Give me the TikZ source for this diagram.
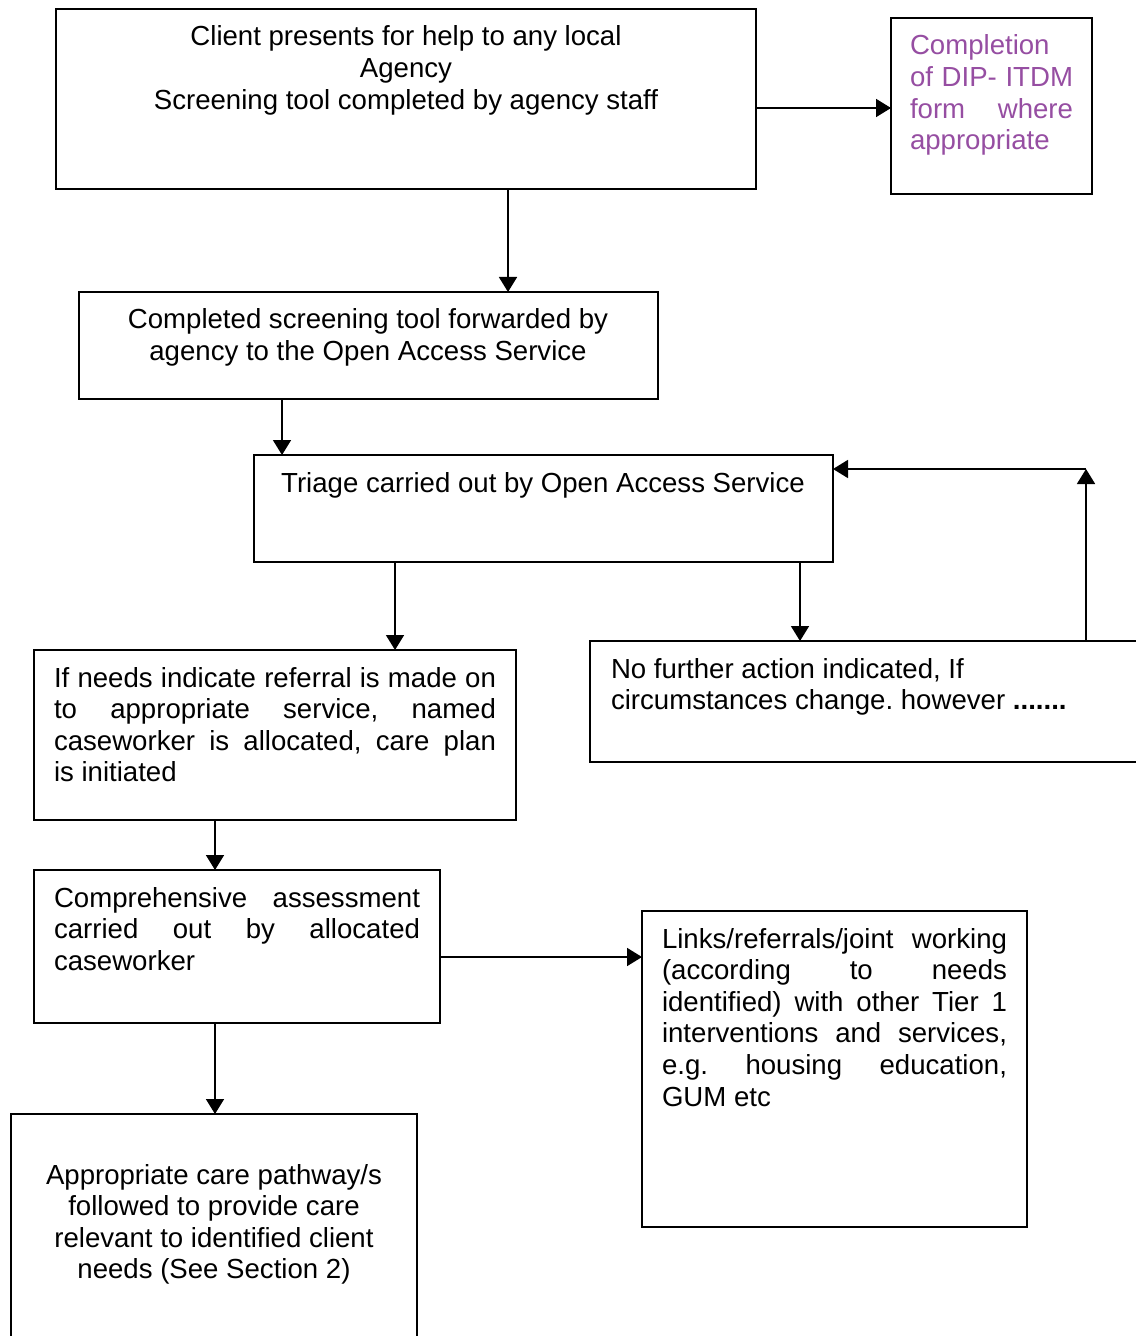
\documentclass[tikz,border=0pt]{standalone}
\usepackage{fontspec}
\setmainfont{Liberation Sans}
\usetikzlibrary{arrows.meta}
\definecolor{purp}{RGB}{150,78,162}
\frenchspacing
\begin{document}
\begin{tikzpicture}[x=0.5pt,y=-0.5pt,
  box/.style={draw,line width=0.9pt,anchor=north west,inner sep=0pt,outer sep=0pt},
  txt/.style={inner sep=0pt,outer sep=0pt,font=\fontsize{13.8}{15.8}\selectfont},
  arr/.style={line width=0.85pt,-{Triangle[length=7.5pt,width=9pt]}},
  ln/.style={line width=0.85pt}]
\useasboundingbox (0,0) rectangle (1135,1336);
% boxes
\node[box,minimum width=350pt,minimum height=90pt] (A) at (56,9) {};
\node[box,minimum width=100.5pt,minimum height=88pt] (B) at (891,18) {};
\node[box,minimum width=289.5pt,minimum height=53.5pt] (C) at (79,292) {};
\node[box,minimum width=289.5pt,minimum height=53.5pt] (D) at (254,455) {};
\node[box,minimum width=241pt,minimum height=85pt] (E) at (34,650) {};
\node[box,minimum width=275pt,minimum height=60.5pt] (F) at (590,641) {};
\node[box,minimum width=203pt,minimum height=76.5pt] (G) at (34,870) {};
\node[box,minimum width=192.5pt,minimum height=158pt] (H) at (642,911) {};
\node[box,minimum width=203pt,minimum height=115.5pt] (I) at (11,1114) {};
% texts
\node[txt,anchor=north,align=center] (tA) at (406,26) {Client presents for help to any local\\Agency\\Screening tool completed by agency staff};
\node[txt,anchor=north west,text width=81.5pt,align=justify,text=purp] (tB) at (910,35) {Completion\linebreak of DIP- ITDM\linebreak form where\linebreak appropriate};
\node[txt,anchor=north,align=center] (tC) at (368,309) {Completed screening tool forwarded by\\agency to the Open Access Service};
\node[txt,anchor=north,align=center] (tD) at (543,472) {Triage carried out by Open Access Service};
\node[txt,anchor=north west,text width=221pt,align=justify] (tE) at (54,667) {If needs indicate referral is made on\linebreak to appropriate service, named\linebreak caseworker is allocated, care plan\linebreak is initiated};
\node[txt,anchor=north west,align=left] (tF) at (611,658) {No further action indicated, If\\circumstances change. however \textbf{.......}};
\node[txt,anchor=north west,text width=183pt,align=justify] (tG) at (54,887) {Comprehensive assessment\linebreak carried out by allocated\linebreak caseworker};
\node[txt,anchor=north west,text width=172.5pt,align=justify] (tH) at (662,928) {Links/referrals/joint working\linebreak (according to needs\linebreak identified) with other Tier 1\linebreak interventions and services,\linebreak e.g. housing education,\linebreak GUM etc};
\node[txt,anchor=north,align=center] (tI) at (214,1164) {Appropriate care pathway/s\\followed to provide care\\relevant to identified client\\needs (See Section 2)};
% helper coordinates
\coordinate (r108) at (0,108);
\coordinate (c508) at (508,0);
\coordinate (c282) at (282,0);
\coordinate (c395) at (395,0);
\coordinate (c800) at (800,0);
\coordinate (c1086) at (1086,0);
\coordinate (corner) at (1086,469);
\coordinate (c215) at (215,0);
\coordinate (r957) at (0,957);
% connectors
\draw[arr] (A.east |- r108) -- (B.west |- r108);
\draw[arr] (A.south -| c508) -- (C.north -| c508);
\draw[arr] (C.south -| c282) -- (D.north -| c282);
\draw[arr] (D.south -| c395) -- (E.north -| c395);
\draw[arr] (D.south -| c800) -- (F.north -| c800);
\draw[arr] (F.north -| c1086) -- (corner);
\draw[arr] (corner) -- (D.east |- corner);
\draw[arr] (E.south -| c215) -- (G.north -| c215);
\draw[arr] (G.east |- r957) -- (H.west |- r957);
\draw[arr] (G.south -| c215) -- (I.north -| c215);
\end{tikzpicture}
\end{document}
